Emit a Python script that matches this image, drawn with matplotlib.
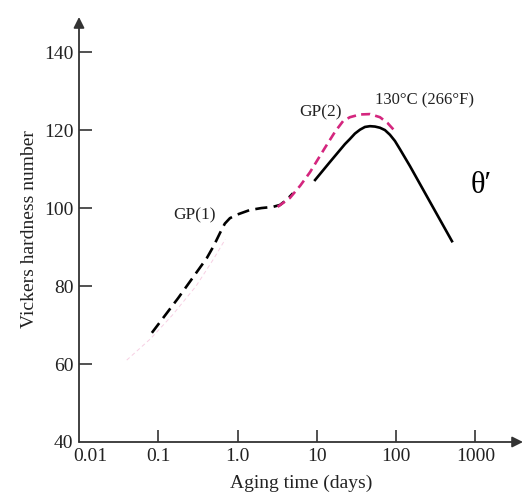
import matplotlib.pyplot as plt
import matplotlib.transforms as mtransforms

# aging curve at 130 C
t_early = [0.083, 0.178, 0.41, 0.5, 0.6, 0.69, 0.8, 0.98, 1.43, 2.0, 2.79, 3.43, 4.2, 5.0]
h_early = [68, 76.9, 87.2, 90.3, 93.6, 96.0, 97.4, 98.3, 99.5, 100.0, 100.3, 100.8, 102.2, 103.8]

t_late = [9.5, 14.6, 22.6, 26.1, 30.2, 35.0, 40.4, 46.8, 54.1, 62.5, 72.2, 83.5, 96.6, 111.7, 149, 506]
h_late = [107.2, 111.8, 116.4, 117.7, 119.1, 120.1, 120.8, 121.0, 120.9, 120.6, 120.0, 118.8, 117.2, 115.1, 110.8, 91.5]

t_gp2 = [3.2, 4.58, 6.2, 8.2, 12.6, 17, 21.4, 26.1, 35.0, 46.8, 62.5, 78, 102]
h_gp2 = [100.3, 102.6, 105.8, 109.2, 115.4, 119.6, 122.3, 123.3, 124.0, 124.1, 123.3, 121.8, 119.2]

t_faint = [0.04, 0.08, 0.15, 0.3, 0.5, 0.7]
h_faint = [61, 66.5, 72.5, 80, 87, 92]

xticks = [0.01, 0.1, 1.0, 10, 100, 1000]
xtick_labels = ['0.01', '0.1', '1.0', '10', '100', '1000']
yticks = [40, 60, 80, 100, 120, 140]

plt.rcParams['font.family'] = ['Liberation Serif', 'DejaVu Serif']
axis_col = '#333333'

fig = plt.figure(figsize=(5.31, 4.95), dpi=100)
ax = fig.add_axes([79/531, 53/495, (523-79)/531, (442-17)/495])
ax.set_xscale('log')
ax.set_xlim(0.01, 10**3.6)
ax.set_ylim(40, 149)

ax.plot(t_faint, h_faint, color='#f7cfe3', lw=0.7, dashes=(4, 3))
ax.plot(t_early, h_early, color='black', lw=1.9, dashes=(4.6, 2.4), dash_joinstyle='round')
ax.plot(t_gp2, h_gp2, color='#d4267e', lw=1.9, dashes=(3.4, 2.0), dash_joinstyle='round')
ax.plot(t_late, h_late, color='black', lw=1.9, solid_joinstyle='round')

for s in ax.spines.values():
    s.set_visible(False)
ax.annotate('', xy=(1, 0), xytext=(0, 0), xycoords='axes fraction',
            arrowprops=dict(arrowstyle='-|>', color=axis_col, lw=1.3, mutation_scale=16, shrinkA=0, shrinkB=0))
ax.annotate('', xy=(0, 1), xytext=(0, 0), xycoords='axes fraction',
            arrowprops=dict(arrowstyle='-|>', color=axis_col, lw=1.3, mutation_scale=16, shrinkA=0, shrinkB=0))

ax.set_xticks(xticks)
ax.set_xticklabels(xtick_labels)
ax.minorticks_off()
ax.set_yticks(yticks)
ax.tick_params(direction='in', length=9, width=1.2, color=axis_col, labelcolor='#222222',
               labelsize=14, pad=4)
# first x label sits right of the corner in the original
lab0 = ax.get_xticklabels()[0]
lab0.set_transform(lab0.get_transform() + mtransforms.ScaledTranslation(11/100, 0, fig.dpi_scale_trans))
ax.xaxis.get_major_ticks()[0].tick1line.set_visible(False)
ax.yaxis.get_major_ticks()[0].tick1line.set_visible(False)

ax.set_xlabel('Aging time (days)', fontsize=14, color='#222222', labelpad=7)
ax.set_ylabel('Vickers hardness number', fontsize=14, color='#222222', labelpad=4)

ax.text(0.29, 98, 'GP(1)', fontsize=12.5, ha='center', va='center', color='#222222')
ax.text(11.2, 124.6, 'GP(2)', fontsize=12.5, ha='center', va='center', color='#222222')
ax.text(231, 127.7, '130°C (266°F)', fontsize=12, ha='center', va='center', color='#222222')
ax.text(1175, 105.9, 'θ′', fontsize=22, ha='center', va='center', color='black')

fig.savefig('out.png', dpi=100)
